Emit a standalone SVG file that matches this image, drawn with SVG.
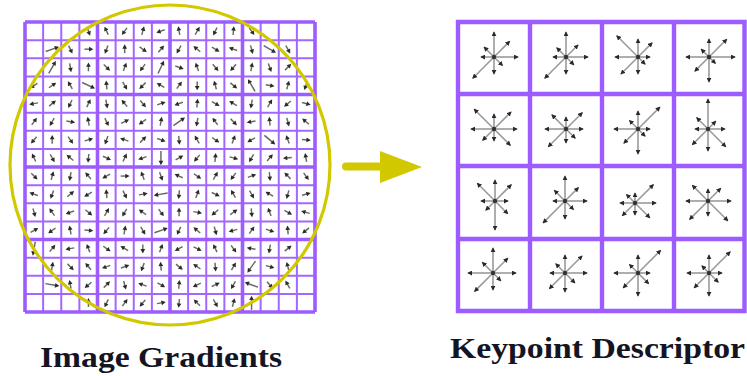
<svg xmlns="http://www.w3.org/2000/svg" xmlns:xlink="http://www.w3.org/1999/xlink" width="747" height="376" viewBox="0 0 747 376">
  <style>
    .thin { fill: none; stroke: #a267ff; stroke-width: 2; }
    .thick { fill: none; stroke: #9d5cff; stroke-width: 3.6; }
    .cellgrid { fill: none; stroke: #9d5cff; stroke-width: 4.4; stroke-linecap: square; }
    .star line { stroke: #9a9a9a; stroke-width: 1.6; marker-end: url(#tip); }
    .hub { fill: #333; }
    .label { font-family: "Liberation Serif", "DejaVu Serif", serif; font-weight: bold; fill: #141422; }
  </style>
  <defs>
    <!-- gradient sample arrows, in cell units -->
    <g id="s">
      <path d="M-.22 0H.1" stroke="#666" stroke-width=".08"/>
      <path d="M.27 0L.03-.13V.13Z" fill="#2b2b2b"/>
    </g>
    <g id="l">
      <path d="M-.38 0H.22" stroke="#666" stroke-width=".08"/>
      <path d="M.4 0L.16-.13V.13Z" fill="#2b2b2b"/>
    </g>
    <marker id="tip" viewBox="0 0 6 6" refX="5" refY="3" markerWidth="5" markerHeight="5" markerUnits="userSpaceOnUse" orient="auto">
      <path d="M0 0L6 3L0 6Z" fill="#2a2a2a"/>
    </marker>
  </defs>

  <!-- left: image gradient grid, 16x16 cells with a heavier line every 4 cells -->
  <g id="gradient-grid">
    <path class="thin" d="M43.125 22V312M61.25 22V312M79.375 22V312M115.625 22V312M133.75 22V312M151.875 22V312M188.125 22V312M206.25 22V312M224.375 22V312M260.625 22V312M278.75 22V312M296.875 22V312M25 40.125H315M25 58.25H315M25 76.375H315M25 112.625H315M25 130.75H315M25 148.875H315M25 185.125H315M25 203.25H315M25 221.375H315M25 257.625H315M25 275.75H315M25 293.875H315"/>
    <path class="thick" d="M25 22V312M97.5 22V312M170 22V312M242.5 22V312M315 22V312M25 22H315M25 94.5H315M25 167H315M25 239.5H315M25 312H315"/>
  </g>

  <g id="gradient-samples" transform="translate(25 22) scale(18.125)">
    <!-- row 0 -->
    <use href="#s" transform="translate(3.5 .5) rotate(70)"/>
    <use href="#s" transform="translate(4.5 .5) rotate(-115)"/>
    <use href="#s" transform="translate(5.5 .5) rotate(125)"/>
    <use href="#s" transform="translate(6.5 .5) rotate(-75)"/>
    <use href="#s" transform="translate(7.5 .5) rotate(160)"/>
    <use href="#s" transform="translate(8.5 .5) rotate(-100)"/>
    <use href="#s" transform="translate(9.5 .5) rotate(-60)"/>
    <use href="#s" transform="translate(10.5 .5) rotate(115)"/>
    <use href="#s" transform="translate(11.5 .5) rotate(-85)"/>
    <use href="#s" transform="translate(12.5 .5) rotate(55)"/>
    <!-- row 1 -->
    <use href="#l" transform="translate(1.5 1.5) rotate(-20)"/>
    <use href="#s" transform="translate(2.5 1.5) rotate(65)"/>
    <use href="#s" transform="translate(3.5 1.5) rotate(0)"/>
    <use href="#s" transform="translate(4.5 1.5) rotate(110)"/>
    <use href="#s" transform="translate(5.5 1.5) rotate(-90)"/>
    <use href="#s" transform="translate(6.5 1.5) rotate(35)"/>
    <use href="#s" transform="translate(7.5 1.5) rotate(-50)"/>
    <use href="#s" transform="translate(8.5 1.5) rotate(120)"/>
    <use href="#s" transform="translate(9.5 1.5) rotate(-140)"/>
    <use href="#s" transform="translate(10.5 1.5) rotate(30)"/>
    <use href="#s" transform="translate(11.5 1.5) rotate(-160)"/>
    <use href="#s" transform="translate(12.5 1.5) rotate(75)"/>
    <use href="#l" transform="translate(13.5 1.5) rotate(30)"/>
    <use href="#s" transform="translate(14.5 1.5) rotate(60)"/>
    <!-- row 2 -->
    <use href="#l" transform="translate(1.5 2.5) rotate(-60)"/>
    <use href="#s" transform="translate(2.5 2.5) rotate(80)"/>
    <use href="#s" transform="translate(3.5 2.5) rotate(-90)"/>
    <use href="#s" transform="translate(4.5 2.5) rotate(45)"/>
    <use href="#s" transform="translate(5.5 2.5) rotate(-70)"/>
    <use href="#s" transform="translate(6.5 2.5) rotate(125)"/>
    <use href="#l" transform="translate(7.5 2.5) rotate(-65)"/>
    <use href="#s" transform="translate(8.5 2.5) rotate(20)"/>
    <use href="#s" transform="translate(9.5 2.5) rotate(-110)"/>
    <use href="#s" transform="translate(10.5 2.5) rotate(50)"/>
    <use href="#s" transform="translate(11.5 2.5) rotate(130)"/>
    <use href="#s" transform="translate(12.5 2.5) rotate(-80)"/>
    <use href="#s" transform="translate(13.5 2.5) rotate(70)"/>
    <use href="#s" transform="translate(14.5 2.5) rotate(-45)"/>
    <!-- row 3 -->
    <use href="#s" transform="translate(.5 3.5) rotate(150)"/>
    <use href="#s" transform="translate(1.5 3.5) rotate(-35)"/>
    <use href="#s" transform="translate(2.5 3.5) rotate(-120)"/>
    <use href="#l" transform="translate(3.5 3.5) rotate(25)"/>
    <use href="#s" transform="translate(4.5 3.5) rotate(-95)"/>
    <use href="#s" transform="translate(5.5 3.5) rotate(60)"/>
    <use href="#s" transform="translate(6.5 3.5) rotate(135)"/>
    <use href="#s" transform="translate(7.5 3.5) rotate(-150)"/>
    <use href="#s" transform="translate(8.5 3.5) rotate(-55)"/>
    <use href="#s" transform="translate(9.5 3.5) rotate(90)"/>
    <use href="#s" transform="translate(10.5 3.5) rotate(-105)"/>
    <use href="#s" transform="translate(11.5 3.5) rotate(40)"/>
    <use href="#l" transform="translate(12.5 3.5) rotate(-120)"/>
    <use href="#s" transform="translate(13.5 3.5) rotate(10)"/>
    <use href="#s" transform="translate(14.5 3.5) rotate(-75)"/>
    <use href="#s" transform="translate(15.5 3.5) rotate(110)"/>
    <!-- row 4 -->
    <use href="#s" transform="translate(.5 4.5) rotate(170)"/>
    <use href="#s" transform="translate(1.5 4.5) rotate(-40)"/>
    <use href="#s" transform="translate(2.5 4.5) rotate(115)"/>
    <use href="#s" transform="translate(3.5 4.5) rotate(-65)"/>
    <use href="#s" transform="translate(4.5 4.5) rotate(80)"/>
    <use href="#s" transform="translate(5.5 4.5) rotate(-130)"/>
    <use href="#s" transform="translate(6.5 4.5) rotate(50)"/>
    <use href="#s" transform="translate(7.5 4.5) rotate(-20)"/>
    <use href="#s" transform="translate(8.5 4.5) rotate(160)"/>
    <use href="#s" transform="translate(9.5 4.5) rotate(-85)"/>
    <use href="#s" transform="translate(10.5 4.5) rotate(30)"/>
    <use href="#s" transform="translate(11.5 4.5) rotate(-150)"/>
    <use href="#s" transform="translate(12.5 4.5) rotate(100)"/>
    <use href="#s" transform="translate(13.5 4.5) rotate(-60)"/>
    <use href="#s" transform="translate(14.5 4.5) rotate(140)"/>
    <use href="#s" transform="translate(15.5 4.5) rotate(15)"/>
    <!-- row 5 -->
    <use href="#s" transform="translate(.5 5.5) rotate(-55)"/>
    <use href="#s" transform="translate(1.5 5.5) rotate(120)"/>
    <use href="#s" transform="translate(2.5 5.5) rotate(10)"/>
    <use href="#s" transform="translate(3.5 5.5) rotate(-100)"/>
    <use href="#s" transform="translate(4.5 5.5) rotate(65)"/>
    <use href="#s" transform="translate(5.5 5.5) rotate(-25)"/>
    <use href="#s" transform="translate(6.5 5.5) rotate(145)"/>
    <use href="#s" transform="translate(7.5 5.5) rotate(-80)"/>
    <use href="#l" transform="translate(8.5 5.5) rotate(-35)"/>
    <use href="#s" transform="translate(9.5 5.5) rotate(100)"/>
    <use href="#s" transform="translate(10.5 5.5) rotate(-125)"/>
    <use href="#s" transform="translate(11.5 5.5) rotate(45)"/>
    <use href="#s" transform="translate(12.5 5.5) rotate(170)"/>
    <use href="#s" transform="translate(13.5 5.5) rotate(-95)"/>
    <use href="#s" transform="translate(14.5 5.5) rotate(75)"/>
    <use href="#s" transform="translate(15.5 5.5) rotate(-140)"/>
    <!-- row 6 -->
    <use href="#s" transform="translate(.5 6.5) rotate(130)"/>
    <use href="#s" transform="translate(1.5 6.5) rotate(-90)"/>
    <use href="#s" transform="translate(2.5 6.5) rotate(55)"/>
    <use href="#s" transform="translate(3.5 6.5) rotate(-15)"/>
    <use href="#s" transform="translate(4.5 6.5) rotate(110)"/>
    <use href="#s" transform="translate(5.5 6.5) rotate(-160)"/>
    <use href="#s" transform="translate(6.5 6.5) rotate(-45)"/>
    <use href="#s" transform="translate(7.5 6.5) rotate(20)"/>
    <use href="#s" transform="translate(8.5 6.5) rotate(85)"/>
    <use href="#s" transform="translate(9.5 6.5) rotate(-120)"/>
    <use href="#s" transform="translate(10.5 6.5) rotate(35)"/>
    <use href="#s" transform="translate(11.5 6.5) rotate(-70)"/>
    <use href="#s" transform="translate(12.5 6.5) rotate(150)"/>
    <use href="#l" transform="translate(13.5 6.5) rotate(40)"/>
    <use href="#s" transform="translate(14.5 6.5) rotate(-110)"/>
    <use href="#s" transform="translate(15.5 6.5) rotate(5)"/>
    <!-- row 7 -->
    <use href="#s" transform="translate(.5 7.5) rotate(-115)"/>
    <use href="#s" transform="translate(1.5 7.5) rotate(60)"/>
    <use href="#s" transform="translate(2.5 7.5) rotate(-140)"/>
    <use href="#s" transform="translate(3.5 7.5) rotate(95)"/>
    <use href="#s" transform="translate(4.5 7.5) rotate(25)"/>
    <use href="#s" transform="translate(5.5 7.5) rotate(-65)"/>
    <use href="#s" transform="translate(6.5 7.5) rotate(160)"/>
    <use href="#l" transform="translate(7.5 7.5) rotate(90)"/>
    <use href="#s" transform="translate(8.5 7.5) rotate(-30)"/>
    <use href="#s" transform="translate(9.5 7.5) rotate(130)"/>
    <use href="#s" transform="translate(10.5 7.5) rotate(-85)"/>
    <use href="#s" transform="translate(11.5 7.5) rotate(15)"/>
    <use href="#s" transform="translate(12.5 7.5) rotate(120)"/>
    <use href="#s" transform="translate(13.5 7.5) rotate(-50)"/>
    <use href="#s" transform="translate(14.5 7.5) rotate(175)"/>
    <use href="#s" transform="translate(15.5 7.5) rotate(-100)"/>
    <!-- row 8 -->
    <use href="#s" transform="translate(.5 8.5) rotate(45)"/>
    <use href="#s" transform="translate(1.5 8.5) rotate(-75)"/>
    <use href="#s" transform="translate(2.5 8.5) rotate(100)"/>
    <use href="#s" transform="translate(3.5 8.5) rotate(-130)"/>
    <use href="#s" transform="translate(4.5 8.5) rotate(150)"/>
    <use href="#s" transform="translate(5.5 8.5) rotate(0)"/>
    <use href="#s" transform="translate(6.5 8.5) rotate(-110)"/>
    <use href="#s" transform="translate(7.5 8.5) rotate(70)"/>
    <use href="#s" transform="translate(8.5 8.5) rotate(-155)"/>
    <use href="#s" transform="translate(9.5 8.5) rotate(35)"/>
    <use href="#s" transform="translate(10.5 8.5) rotate(-60)"/>
    <use href="#s" transform="translate(11.5 8.5) rotate(125)"/>
    <use href="#s" transform="translate(12.5 8.5) rotate(-20)"/>
    <use href="#s" transform="translate(13.5 8.5) rotate(85)"/>
    <use href="#s" transform="translate(14.5 8.5) rotate(-135)"/>
    <use href="#s" transform="translate(15.5 8.5) rotate(55)"/>
    <!-- row 9 -->
    <use href="#s" transform="translate(.5 9.5) rotate(-160)"/>
    <use href="#s" transform="translate(1.5 9.5) rotate(110)"/>
    <use href="#s" transform="translate(2.5 9.5) rotate(-40)"/>
    <use href="#s" transform="translate(3.5 9.5) rotate(150)"/>
    <use href="#s" transform="translate(4.5 9.5) rotate(-95)"/>
    <use href="#s" transform="translate(5.5 9.5) rotate(65)"/>
    <use href="#s" transform="translate(6.5 9.5) rotate(-10)"/>
    <use href="#l" transform="translate(7.5 9.5) rotate(170)"/>
    <use href="#s" transform="translate(8.5 9.5) rotate(95)"/>
    <use href="#s" transform="translate(9.5 9.5) rotate(-70)"/>
    <use href="#s" transform="translate(10.5 9.5) rotate(25)"/>
    <use href="#s" transform="translate(11.5 9.5) rotate(-120)"/>
    <use href="#s" transform="translate(12.5 9.5) rotate(60)"/>
    <use href="#s" transform="translate(13.5 9.5) rotate(-150)"/>
    <use href="#s" transform="translate(14.5 9.5) rotate(105)"/>
    <use href="#s" transform="translate(15.5 9.5) rotate(-15)"/>
    <!-- row 10 -->
    <use href="#s" transform="translate(.5 10.5) rotate(75)"/>
    <use href="#s" transform="translate(1.5 10.5) rotate(-125)"/>
    <use href="#s" transform="translate(2.5 10.5) rotate(160)"/>
    <use href="#s" transform="translate(3.5 10.5) rotate(40)"/>
    <use href="#s" transform="translate(4.5 10.5) rotate(-60)"/>
    <use href="#s" transform="translate(5.5 10.5) rotate(120)"/>
    <use href="#s" transform="translate(6.5 10.5) rotate(-145)"/>
    <use href="#s" transform="translate(7.5 10.5) rotate(55)"/>
    <use href="#s" transform="translate(8.5 10.5) rotate(-90)"/>
    <use href="#s" transform="translate(9.5 10.5) rotate(10)"/>
    <use href="#s" transform="translate(10.5 10.5) rotate(140)"/>
    <use href="#s" transform="translate(11.5 10.5) rotate(-35)"/>
    <use href="#s" transform="translate(12.5 10.5) rotate(85)"/>
    <use href="#s" transform="translate(13.5 10.5) rotate(-110)"/>
    <use href="#s" transform="translate(14.5 10.5) rotate(30)"/>
    <use href="#s" transform="translate(15.5 10.5) rotate(-165)"/>
    <!-- row 11 -->
    <use href="#s" transform="translate(.5 11.5) rotate(-30)"/>
    <use href="#s" transform="translate(1.5 11.5) rotate(145)"/>
    <use href="#s" transform="translate(2.5 11.5) rotate(-100)"/>
    <use href="#s" transform="translate(3.5 11.5) rotate(5)"/>
    <use href="#s" transform="translate(4.5 11.5) rotate(130)"/>
    <use href="#s" transform="translate(5.5 11.5) rotate(-80)"/>
    <use href="#s" transform="translate(6.5 11.5) rotate(60)"/>
    <use href="#l" transform="translate(7.5 11.5) rotate(-20)"/>
    <use href="#s" transform="translate(8.5 11.5) rotate(115)"/>
    <use href="#s" transform="translate(9.5 11.5) rotate(-140)"/>
    <use href="#s" transform="translate(10.5 11.5) rotate(75)"/>
    <use href="#s" transform="translate(11.5 11.5) rotate(165)"/>
    <use href="#s" transform="translate(12.5 11.5) rotate(-55)"/>
    <use href="#s" transform="translate(13.5 11.5) rotate(20)"/>
    <use href="#s" transform="translate(14.5 11.5) rotate(-95)"/>
    <use href="#s" transform="translate(15.5 11.5) rotate(140)"/>
    <!-- row 12 -->
    <use href="#l" transform="translate(.5 12.5) rotate(100)"/>
    <use href="#s" transform="translate(1.5 12.5) rotate(-50)"/>
    <use href="#s" transform="translate(2.5 12.5) rotate(170)"/>
    <use href="#s" transform="translate(3.5 12.5) rotate(-110)"/>
    <use href="#s" transform="translate(4.5 12.5) rotate(35)"/>
    <use href="#s" transform="translate(5.5 12.5) rotate(-150)"/>
    <use href="#s" transform="translate(6.5 12.5) rotate(90)"/>
    <use href="#s" transform="translate(7.5 12.5) rotate(-70)"/>
    <use href="#s" transform="translate(8.5 12.5) rotate(150)"/>
    <use href="#s" transform="translate(9.5 12.5) rotate(25)"/>
    <use href="#s" transform="translate(10.5 12.5) rotate(-115)"/>
    <use href="#s" transform="translate(11.5 12.5) rotate(55)"/>
    <use href="#s" transform="translate(12.5 12.5) rotate(-170)"/>
    <use href="#s" transform="translate(13.5 12.5) rotate(100)"/>
    <use href="#s" transform="translate(14.5 12.5) rotate(-40)"/>
    <!-- row 13 -->
    <use href="#s" transform="translate(1.5 13.5) rotate(-80)"/>
    <use href="#s" transform="translate(2.5 13.5) rotate(45)"/>
    <use href="#s" transform="translate(3.5 13.5) rotate(-130)"/>
    <use href="#s" transform="translate(4.5 13.5) rotate(160)"/>
    <use href="#s" transform="translate(5.5 13.5) rotate(-20)"/>
    <use href="#s" transform="translate(6.5 13.5) rotate(110)"/>
    <use href="#s" transform="translate(7.5 13.5) rotate(-95)"/>
    <use href="#s" transform="translate(8.5 13.5) rotate(40)"/>
    <use href="#s" transform="translate(9.5 13.5) rotate(-145)"/>
    <use href="#s" transform="translate(10.5 13.5) rotate(85)"/>
    <use href="#s" transform="translate(11.5 13.5) rotate(-60)"/>
    <use href="#l" transform="translate(12.5 13.5) rotate(125)"/>
    <use href="#s" transform="translate(13.5 13.5) rotate(15)"/>
    <use href="#s" transform="translate(14.5 13.5) rotate(-105)"/>
    <!-- row 14 -->
    <use href="#l" transform="translate(1.5 14.5) rotate(10)"/>
    <use href="#s" transform="translate(2.5 14.5) rotate(-100)"/>
    <use href="#s" transform="translate(3.5 14.5) rotate(140)"/>
    <use href="#s" transform="translate(4.5 14.5) rotate(-45)"/>
    <use href="#s" transform="translate(5.5 14.5) rotate(75)"/>
    <use href="#s" transform="translate(6.5 14.5) rotate(-160)"/>
    <use href="#s" transform="translate(7.5 14.5) rotate(30)"/>
    <use href="#s" transform="translate(8.5 14.5) rotate(-85)"/>
    <use href="#s" transform="translate(9.5 14.5) rotate(155)"/>
    <use href="#s" transform="translate(10.5 14.5) rotate(-25)"/>
    <use href="#s" transform="translate(11.5 14.5) rotate(120)"/>
    <use href="#l" transform="translate(12.5 14.5) rotate(-160)"/>
    <use href="#s" transform="translate(13.5 14.5) rotate(50)"/>
    <use href="#s" transform="translate(14.5 14.5) rotate(-120)"/>
    <!-- row 15 -->
    <use href="#s" transform="translate(3.5 15.5) rotate(-90)"/>
    <use href="#s" transform="translate(4.5 15.5) rotate(115)"/>
    <use href="#s" transform="translate(5.5 15.5) rotate(-55)"/>
    <use href="#s" transform="translate(6.5 15.5) rotate(130)"/>
    <use href="#s" transform="translate(7.5 15.5) rotate(-10)"/>
    <use href="#s" transform="translate(8.5 15.5) rotate(95)"/>
    <use href="#s" transform="translate(9.5 15.5) rotate(-135)"/>
    <use href="#s" transform="translate(10.5 15.5) rotate(60)"/>
    <use href="#s" transform="translate(11.5 15.5) rotate(-75)"/>
    <use href="#l" transform="translate(12.5 15.5) rotate(-90)"/>
  </g>

  <!-- gaussian window over the sample region -->
  <circle id="window" cx="170" cy="165" r="160" fill="none" stroke="#d2c800" stroke-width="3.2"/>

  <!-- connector -->
  <g id="connectors">
    <path d="M346 166.5H384" stroke="#d2c800" stroke-width="8" stroke-linecap="round"/>
    <path d="M380 151L422 167L380 183Z" fill="#d2c800"/>
  </g>

  <!-- right: 4x4 keypoint descriptor -->
  <g id="descriptor-grid">
    <rect x="458" y="22" width="286.5" height="289" fill="#fff"/>
    <path class="cellgrid" d="M458 22V311M530 22V311M602 22V311M674 22V311M744.5 22V311M458 22H744.5M458 94H744.5M458 166H744.5M458 239H744.5M458 311H744.5"/>
  </g>

  <g id="hist-0-0" class="star" transform="translate(494 57)">
    <line x2="24" y2="0"/><line x2="15.6" y2="-15.6"/><line x2="0" y2="-25"/><line x2="-9.9" y2="-9.9"/>
    <line x2="-13" y2="0"/><line x2="-21.2" y2="21.2"/><line x2="0" y2="17"/><line x2="8.5" y2="8.5"/>
    <circle class="hub" r="2.2"/>
  </g>
  <g id="hist-0-1" class="star" transform="translate(566 57)">
    <line x2="22" y2="0"/><line x2="12" y2="-12"/><line x2="0" y2="-25"/><line x2="-9.2" y2="-9.2"/>
    <line x2="-13" y2="0"/><line x2="-21.2" y2="21.2"/><line x2="0" y2="17"/><line x2="7.8" y2="7.8"/>
    <circle class="hub" r="2.2"/>
  </g>
  <g id="hist-0-2" class="star" transform="translate(638 57)">
    <line x2="12" y2="0"/><line x2="14.1" y2="-14.1"/><line x2="0" y2="-18"/><line x2="-21.2" y2="-21.2"/>
    <line x2="-23" y2="0"/><line x2="-17" y2="17"/><line x2="0" y2="17"/><line x2="7.1" y2="7.1"/>
    <circle class="hub" r="2.2"/>
  </g>
  <g id="hist-0-3" class="star" transform="translate(709 57)">
    <line x2="26" y2="0"/><line x2="17.7" y2="-17.7"/><line x2="0" y2="-18"/><line x2="-7.8" y2="-7.8"/>
    <line x2="-23" y2="0"/><line x2="-14.1" y2="14.1"/><line x2="0" y2="25"/><line x2="6.4" y2="6.4"/>
    <circle class="hub" r="2.2"/>
  </g>

  <g id="hist-1-0" class="star" transform="translate(494 129)">
    <line x2="23" y2="0"/><line x2="17" y2="-17"/><line x2="0" y2="-15"/><line x2="-19.8" y2="-19.8"/>
    <line x2="-23" y2="0"/><line x2="-11.3" y2="11.3"/><line x2="0" y2="12"/><line x2="16.3" y2="16.3"/>
    <circle class="hub" r="2.2"/>
  </g>
  <g id="hist-1-1" class="star" transform="translate(566 129)">
    <line x2="17" y2="0"/><line x2="16.3" y2="-16.3"/><line x2="0" y2="-12"/><line x2="-14.1" y2="-14.1"/>
    <line x2="-21" y2="0"/><line x2="-17.7" y2="17.7"/><line x2="0" y2="14"/><line x2="9.2" y2="9.2"/>
    <circle class="hub" r="2.2"/>
  </g>
  <g id="hist-1-2" class="star" transform="translate(638 129)">
    <line x2="12" y2="0"/><line x2="21.9" y2="-21.9"/><line x2="0" y2="-18"/><line x2="-8.5" y2="-8.5"/>
    <line x2="-24" y2="0"/><line x2="-14.1" y2="14.1"/><line x2="0" y2="25"/><line x2="7.1" y2="7.1"/>
    <circle class="hub" r="2.2"/>
  </g>
  <g id="hist-1-3" class="star" transform="translate(708 129)">
    <line x2="17" y2="0"/><line x2="7.8" y2="-7.8"/><line x2="0" y2="-30"/><line x2="-11.3" y2="-11.3"/>
    <line x2="-13" y2="0"/><line x2="-15.6" y2="15.6"/><line x2="0" y2="22"/><line x2="17.7" y2="17.7"/>
    <circle class="hub" r="2.2"/>
  </g>

  <g id="hist-2-0" class="star" transform="translate(495 201)">
    <line x2="13" y2="0"/><line x2="16.3" y2="-16.3"/><line x2="0" y2="-21"/><line x2="-17.7" y2="-17.7"/>
    <line x2="-14" y2="0"/><line x2="-9.2" y2="9.2"/><line x2="0" y2="29"/><line x2="12.7" y2="12.7"/>
    <circle class="hub" r="2.2"/>
  </g>
  <g id="hist-2-1" class="star" transform="translate(565 201)">
    <line x2="22" y2="0"/><line x2="13.4" y2="-13.4"/><line x2="0" y2="-25"/><line x2="-10.6" y2="-10.6"/>
    <line x2="-12" y2="0"/><line x2="-21.9" y2="21.9"/><line x2="0" y2="18"/><line x2="8.5" y2="8.5"/>
    <circle class="hub" r="2.2"/>
  </g>
  <g id="hist-2-2" class="star" transform="translate(635 203)">
    <line x2="21" y2="0"/><line x2="18.4" y2="-18.4"/><line x2="0" y2="-10"/><line x2="-8.5" y2="-8.5"/>
    <line x2="-15" y2="0"/><line x2="-12.7" y2="12.7"/><line x2="0" y2="12"/><line x2="14.8" y2="14.8"/>
    <circle class="hub" r="2.2"/>
  </g>
  <g id="hist-2-3" class="star" transform="translate(708 201)">
    <line x2="23" y2="0"/><line x2="12.7" y2="-12.7"/><line x2="0" y2="-12"/><line x2="-15.6" y2="-15.6"/>
    <line x2="-22" y2="0"/><line x2="-18.4" y2="18.4"/><line x2="0" y2="15"/><line x2="19.8" y2="19.8"/>
    <circle class="hub" r="2.2"/>
  </g>

  <g id="hist-3-0" class="star" transform="translate(493 273)">
    <line x2="23" y2="0"/><line x2="14.8" y2="-14.8"/><line x2="0" y2="-25"/><line x2="-10.6" y2="-10.6"/>
    <line x2="-25" y2="0"/><line x2="-18.4" y2="18.4"/><line x2="0" y2="17"/><line x2="7.8" y2="7.8"/>
    <circle class="hub" r="2.2"/>
  </g>
  <g id="hist-3-1" class="star" transform="translate(565 273)">
    <line x2="22" y2="0"/><line x2="17" y2="-17"/><line x2="0" y2="-18"/><line x2="-9.2" y2="-9.2"/>
    <line x2="-15" y2="0"/><line x2="-15.6" y2="15.6"/><line x2="0" y2="19"/><line x2="9.9" y2="9.9"/>
    <circle class="hub" r="2.2"/>
  </g>
  <g id="hist-3-2" class="star" transform="translate(638 273)">
    <line x2="12" y2="0"/><line x2="22.6" y2="-22.6"/><line x2="0" y2="-18"/><line x2="-8.5" y2="-8.5"/>
    <line x2="-24" y2="0"/><line x2="-14.8" y2="14.8"/><line x2="0" y2="23"/><line x2="10.6" y2="10.6"/>
    <circle class="hub" r="2.2"/>
  </g>
  <g id="hist-3-3" class="star" transform="translate(709 273)">
    <line x2="13" y2="0"/><line x2="21.2" y2="-21.2"/><line x2="0" y2="-18"/><line x2="-7.1" y2="-7.1"/>
    <line x2="-22" y2="0"/><line x2="-14.8" y2="14.8"/><line x2="0" y2="23"/><line x2="9.2" y2="9.2"/>
    <circle class="hub" r="2.2"/>
  </g>

  <!-- captions -->
  <text class="label" x="40" y="367" font-size="30" textLength="242" lengthAdjust="spacingAndGlyphs">Image Gradients</text>
  <text class="label" x="450" y="358" font-size="29" textLength="295" lengthAdjust="spacingAndGlyphs">Keypoint Descriptor</text>
</svg>
